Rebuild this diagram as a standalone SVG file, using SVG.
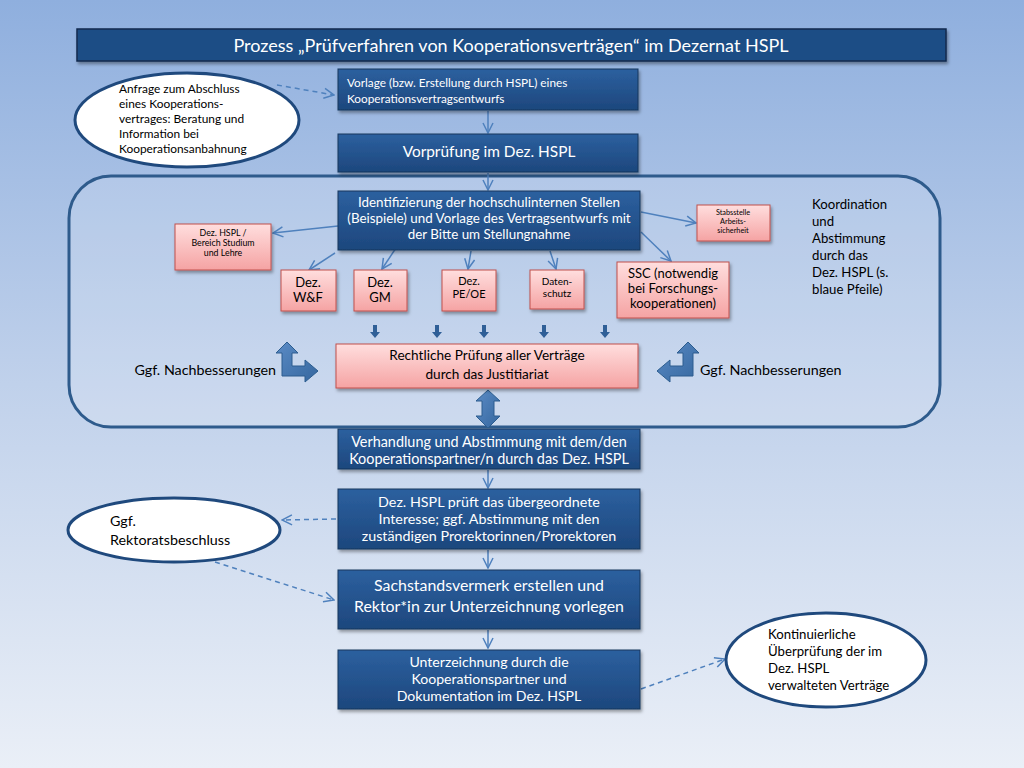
<svg xmlns="http://www.w3.org/2000/svg" width="1024" height="768" viewBox="0 0 1024 768">
<defs>
<linearGradient id="bg" x1="0" y1="0" x2="0" y2="1">
<stop offset="0" stop-color="#8fafde"/>
<stop offset="0.5" stop-color="#c0d1eb"/>
<stop offset="1" stop-color="#eaeff7"/>
</linearGradient>
<linearGradient id="blue" x1="0" y1="0" x2="0" y2="1">
<stop offset="0" stop-color="#2c609f"/>
<stop offset="1" stop-color="#1d477d"/>
</linearGradient>
<linearGradient id="pink" x1="0" y1="0" x2="0" y2="1">
<stop offset="0" stop-color="#ffdede"/>
<stop offset="1" stop-color="#f5a3a3"/>
</linearGradient>
<linearGradient id="barrow" x1="0" y1="0" x2="1" y2="1">
<stop offset="0" stop-color="#5b8bc5"/>
<stop offset="1" stop-color="#35679f"/>
</linearGradient>
<filter id="sh" x="-10%" y="-10%" width="130%" height="140%">
<feDropShadow dx="1.5" dy="2.5" stdDeviation="1.5" flood-color="#000" flood-opacity="0.35"/>
</filter>
<marker id="ah" viewBox="0 0 12 12" refX="11" refY="6" markerWidth="12" markerHeight="12" markerUnits="userSpaceOnUse" orient="auto">
<path d="M1,1 L11,6 L1,11" fill="none" stroke="#4f81bd" stroke-width="1.5"/>
</marker>
</defs>
<style>
.bbox{fill:url(#blue);stroke:#17365d;stroke-width:1;filter:url(#sh)}
.pbox{fill:url(#pink);stroke:#c0504d;stroke-width:1;filter:url(#sh)}
.ell{fill:#ffffff;stroke:#1f497d;stroke-width:3}
.wt{font-family:Lato,"Open Sans",sans-serif;fill:#ffffff}
.bt{font-family:Lato,"Open Sans",sans-serif;fill:#000000}
.c{text-anchor:middle}
.conn{stroke:#4f81bd;stroke-width:1.5;fill:none;marker-end:url(#ah)}
.dash{stroke-dasharray:5,4}
.blk{fill:url(#barrow);stroke:#2c5d8f;stroke-width:1}
.sblk{fill:#2f5f97}
</style>
<rect x="0" y="0" width="1024" height="768" fill="url(#bg)"/>

<g id="title">
<rect x="77" y="29" width="869" height="32" fill="#1f4d85" stroke="#0f2a4d" stroke-width="1.5" filter="url(#sh)"/>
<text x="511" y="52" class="wt c" font-size="18">Prozess „Prüfverfahren von Kooperationsverträgen“ im Dezernat HSPL</text>
</g>

<g id="container">
<rect x="69" y="176" width="871" height="251" rx="42" ry="42" fill="#ffffff" fill-opacity="0.15" stroke="#2e5b8c" stroke-width="3"/>
</g>

<g id="connectors">
<line x1="277" y1="85" x2="334" y2="95" class="conn dash"/>
<line x1="488" y1="111" x2="488" y2="133" class="conn"/>
<line x1="488" y1="173" x2="488" y2="190" class="conn"/>
<line x1="338" y1="226" x2="273" y2="233" class="conn"/>
<line x1="335" y1="253" x2="309" y2="270" class="conn"/>
<line x1="398" y1="245" x2="382" y2="269" class="conn"/>
<line x1="471" y1="251" x2="468" y2="269" class="conn"/>
<line x1="550" y1="251" x2="556" y2="269" class="conn"/>
<line x1="641" y1="212" x2="696" y2="223" class="conn"/>
<line x1="641" y1="232" x2="671" y2="261" class="conn"/>
<line x1="488" y1="470" x2="488" y2="488" class="conn"/>
<line x1="488" y1="550" x2="488" y2="568" class="conn"/>
<line x1="488" y1="630" x2="488" y2="648" class="conn"/>
<line x1="336" y1="519" x2="282" y2="520" class="conn dash"/>
<line x1="215" y1="562" x2="334" y2="600" class="conn dash"/>
<line x1="641" y1="689" x2="725" y2="659" class="conn dash"/>
<g id="small-arrows" class="sblk">
<polygon points="373,325 377,325 377,332 380,332 375,338 370,332 373,332"/>
<polygon points="435,325 439,325 439,332 442,332 437,338 432,332 435,332"/>
<polygon points="482,325 486,325 486,332 489,332 484,338 479,332 482,332"/>
<polygon points="542,325 546,325 546,332 549,332 544,338 539,332 542,332"/>
<polygon points="603,325 607,325 607,332 610,332 605,338 600,332 603,332"/>
</g>
<polygon class="blk" points="287,342 298,353 292,353 292,366 305,366 305,360 318,371 305,382 305,376 282,376 282,353 276,353"/>
<polygon class="blk" points="688,342 699,353 693,353 693,376 670,376 670,382 657,371 670,360 670,366 683,366 683,353 677,353"/>
<polygon class="blk" points="488,390 500,401 494,401 494,416 500,416 488,428 476,416 482,416 482,401 476,401"/>
</g>

<g id="ell-anfrage">
<ellipse cx="187" cy="120" rx="112" ry="47" class="ell"/>
<text class="bt" font-size="11.9"><tspan x="119" y="93">Anfrage zum Abschluss</tspan><tspan x="119" y="108">eines Kooperations-</tspan><tspan x="119" y="123">vertrages: Beratung und</tspan><tspan x="119" y="138">Information bei</tspan><tspan x="119" y="153">Kooperationsanbahnung</tspan></text>
</g>

<g id="vorlage">
<rect x="338" y="69" width="300" height="41" class="bbox"/>
<text class="wt" font-size="11.8"><tspan x="347" y="87">Vorlage (bzw. Erstellung durch HSPL) eines</tspan><tspan x="347" y="103">Kooperationsvertragsentwurfs</tspan></text>
</g>

<g id="vorpruefung">
<rect x="338" y="134" width="300" height="38" class="bbox"/>
<text x="489" y="157" class="wt c" font-size="15.4">Vorprüfung im Dez. HSPL</text>
</g>

<g id="identifizierung">
<rect x="338" y="191" width="302" height="59" class="bbox"/>
<text class="wt c" font-size="13.4"><tspan x="489" y="207">Identifizierung der hochschulinternen Stellen</tspan><tspan x="489" y="223">(Beispiele) und Vorlage des Vertragsentwurfs mit</tspan><tspan x="489" y="239">der Bitte um Stellungnahme</tspan></text>
</g>

<g id="hspl-studium">
<rect x="175" y="224" width="96" height="46" class="pbox"/>
<text class="bt c" font-size="8.8"><tspan x="223" y="236">Dez. HSPL /</tspan><tspan x="223" y="246">Bereich Studium</tspan><tspan x="223" y="256">und Lehre</tspan></text>
</g>

<g id="stabsstelle">
<rect x="697" y="205" width="73" height="36" class="pbox"/>
<text class="bt c" font-size="7.3"><tspan x="733" y="215">Stabsstelle</tspan><tspan x="733" y="224">Arbeits-</tspan><tspan x="733" y="233">sicherheit</tspan></text>
</g>

<g id="wf">
<rect x="281" y="270" width="55" height="41" class="pbox"/>
<text class="bt c" font-size="13"><tspan x="308" y="287">Dez.</tspan><tspan x="308" y="302">W&amp;F</tspan></text>
</g>

<g id="gm">
<rect x="354" y="270" width="53" height="41" class="pbox"/>
<text class="bt c" font-size="13"><tspan x="380" y="287">Dez.</tspan><tspan x="380" y="302">GM</tspan></text>
</g>

<g id="peoe">
<rect x="442" y="270" width="54" height="41" class="pbox"/>
<text class="bt c" font-size="11"><tspan x="469" y="285">Dez.</tspan><tspan x="469" y="298">PE/OE</tspan></text>
</g>

<g id="datenschutz">
<rect x="530" y="270" width="54" height="39" class="pbox"/>
<text class="bt c" font-size="10"><tspan x="557" y="285">Daten-</tspan><tspan x="557" y="297">schutz</tspan></text>
</g>

<g id="ssc">
<rect x="617" y="262" width="112" height="56" class="pbox"/>
<text class="bt c" font-size="13"><tspan x="673" y="278">SSC (notwendig</tspan><tspan x="673" y="293">bei Forschungs-</tspan><tspan x="673" y="308">kooperationen)</tspan></text>
</g>

<g id="koordination">
<text class="bt" font-size="13.2"><tspan x="812" y="209">Koordination</tspan><tspan x="812" y="226">und</tspan><tspan x="812" y="243">Abstimmung</tspan><tspan x="812" y="260">durch das</tspan><tspan x="812" y="277">Dez. HSPL (s.</tspan><tspan x="812" y="294">blaue Pfeile)</tspan></text>
</g>

<g id="justitiariat">
<rect x="336" y="344" width="302" height="44" class="pbox"/>
<text class="bt c" font-size="13.6"><tspan x="487" y="360">Rechtliche Prüfung aller Verträge</tspan><tspan x="487" y="379">durch das Justitiariat</tspan></text>
</g>

<g id="nachbesserung-links">
<text x="276" y="375" class="bt" font-size="14.3" text-anchor="end">Ggf. Nachbesserungen</text>
</g>
<g id="nachbesserung-rechts">
<text x="700" y="375" class="bt" font-size="14.3">Ggf. Nachbesserungen</text>
</g>

<g id="verhandlung">
<rect x="338" y="429" width="302" height="40" class="bbox"/>
<text class="wt c" font-size="14.4"><tspan x="489" y="447">Verhandlung und Abstimmung mit dem/den</tspan><tspan x="489" y="464">Kooperationspartner/n durch das Dez. HSPL</tspan></text>
</g>

<g id="interesse">
<rect x="338" y="489" width="302" height="60" class="bbox"/>
<text class="wt c" font-size="14.3"><tspan x="489" y="507">Dez. HSPL prüft das übergeordnete</tspan><tspan x="489" y="524">Interesse; ggf. Abstimmung mit den</tspan><tspan x="489" y="541">zuständigen Prorektorinnen/Prorektoren</tspan></text>
</g>

<g id="ell-rektorat">
<ellipse cx="174" cy="530" rx="106" ry="32" class="ell"/>
<text class="bt" font-size="14.3"><tspan x="110" y="526">Ggf.</tspan><tspan x="110" y="545">Rektoratsbeschluss</tspan></text>
</g>

<g id="sachstand">
<rect x="338" y="570" width="302" height="59" class="bbox"/>
<text class="wt c" font-size="15.9"><tspan x="489" y="591">Sachstandsvermerk erstellen und</tspan><tspan x="489" y="612">Rektor*in zur Unterzeichnung vorlegen</tspan></text>
</g>

<g id="unterzeichnung">
<rect x="338" y="650" width="302" height="59" class="bbox"/>
<text class="wt c" font-size="14.1"><tspan x="489" y="667">Unterzeichnung durch die</tspan><tspan x="489" y="684">Kooperationspartner und</tspan><tspan x="489" y="701">Dokumentation im Dez. HSPL</tspan></text>
</g>

<g id="ell-kontinuierlich">
<ellipse cx="826" cy="660" rx="100" ry="47" class="ell"/>
<text class="bt" font-size="13.2"><tspan x="768" y="639">Kontinuierliche</tspan><tspan x="768" y="656">Überprüfung der im</tspan><tspan x="768" y="673">Dez. HSPL</tspan><tspan x="768" y="690">verwalteten Verträge</tspan></text>
</g>
</svg>
